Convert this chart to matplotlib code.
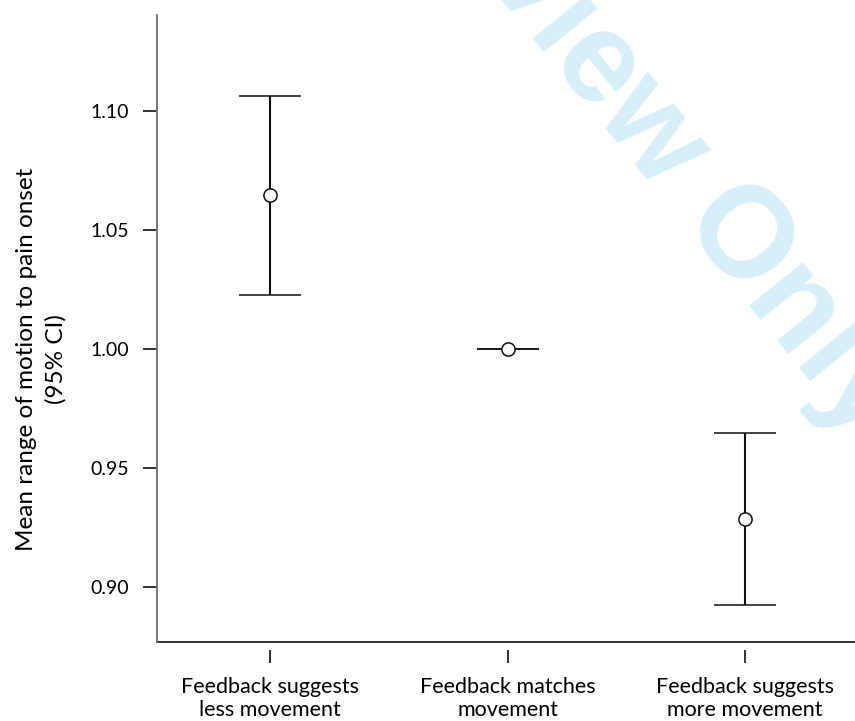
import matplotlib
matplotlib.use("Agg")
import matplotlib.pyplot as plt
from matplotlib.lines import Line2D

# - - - Data - - - #
groups = ["Feedback suggests\nless movement",
          "Feedback matches\nmovement",
          "Feedback suggests\nmore movement"]
means = [1.0647, 1.000, 0.9286]
ci_low = [1.0227, 1.000, 0.8924]
ci_high = [1.1063, 1.000, 0.9647]
y_ticks = [0.90, 0.95, 1.00, 1.05, 1.10]

plt.rcParams['font.family'] = ['Lato', 'DejaVu Sans']
plt.rcParams['font.size'] = 14

fig = plt.figure(figsize=(8.55, 7.21), dpi=100)
ax = fig.add_axes([157 / 855, 1 - 642 / 721, 1 - 157 / 855, (642 - 15) / 721])

x = [1, 2, 3]
err_lo = [m - l for m, l in zip(means, ci_low)]
err_hi = [h - m for m, h in zip(means, ci_high)]

ax.errorbar(x, means, yerr=[err_lo, err_hi], fmt='o', color='#111111',
            mfc='white', mec='#111111', ms=9.5, mew=1.1,
            elinewidth=1.5, capsize=22, capthick=1.6, zorder=3)

ax.set_xlim(0.524, 3.463)
ax.set_ylim(0.8769, 1.1403)

# - - - axes styling - - - #
ax.spines['top'].set_visible(False)
ax.spines['right'].set_visible(False)
ax.spines['left'].set_color('#707070')
ax.spines['left'].set_linewidth(1.3)
ax.spines['bottom'].set_position(('outward', 6))
ax.spines['bottom'].set_visible(False)
ax.add_line(Line2D([0, 1], [0, 0], transform=ax.transAxes, color='#222222',
                   lw=1.3, clip_on=False))

ax.tick_params(axis='y', direction='out', length=10, width=1.3, pad=10,
               color='#222222', labelsize=14)
ax.tick_params(axis='x', direction='out', length=9, width=1.3, pad=10,
               color='#222222', labelsize=15.5)

ax.set_xticks(x)
ax.set_xticklabels(groups, fontsize=15.5, linespacing=1.22)
ax.set_yticks(y_ticks)
ax.set_yticklabels([f"{v:.2f}" for v in y_ticks])

ax.set_ylabel("Mean range of motion to pain onset\n(95% CI)", fontsize=17.5,
              linespacing=1.45)
ax.yaxis.set_label_coords(-0.130, 0.451)

# - - - watermark - - - #
ax.text(0.548, 1.13, "For Peer Review Only", transform=fig.transFigure,
        fontsize=93, fontweight='bold', family='Liberation Sans',
        color='#d6effb', rotation=-51, rotation_mode='anchor',
        ha='center', va='center', zorder=0, clip_on=False)

fig.savefig("out.png", dpi=100)
